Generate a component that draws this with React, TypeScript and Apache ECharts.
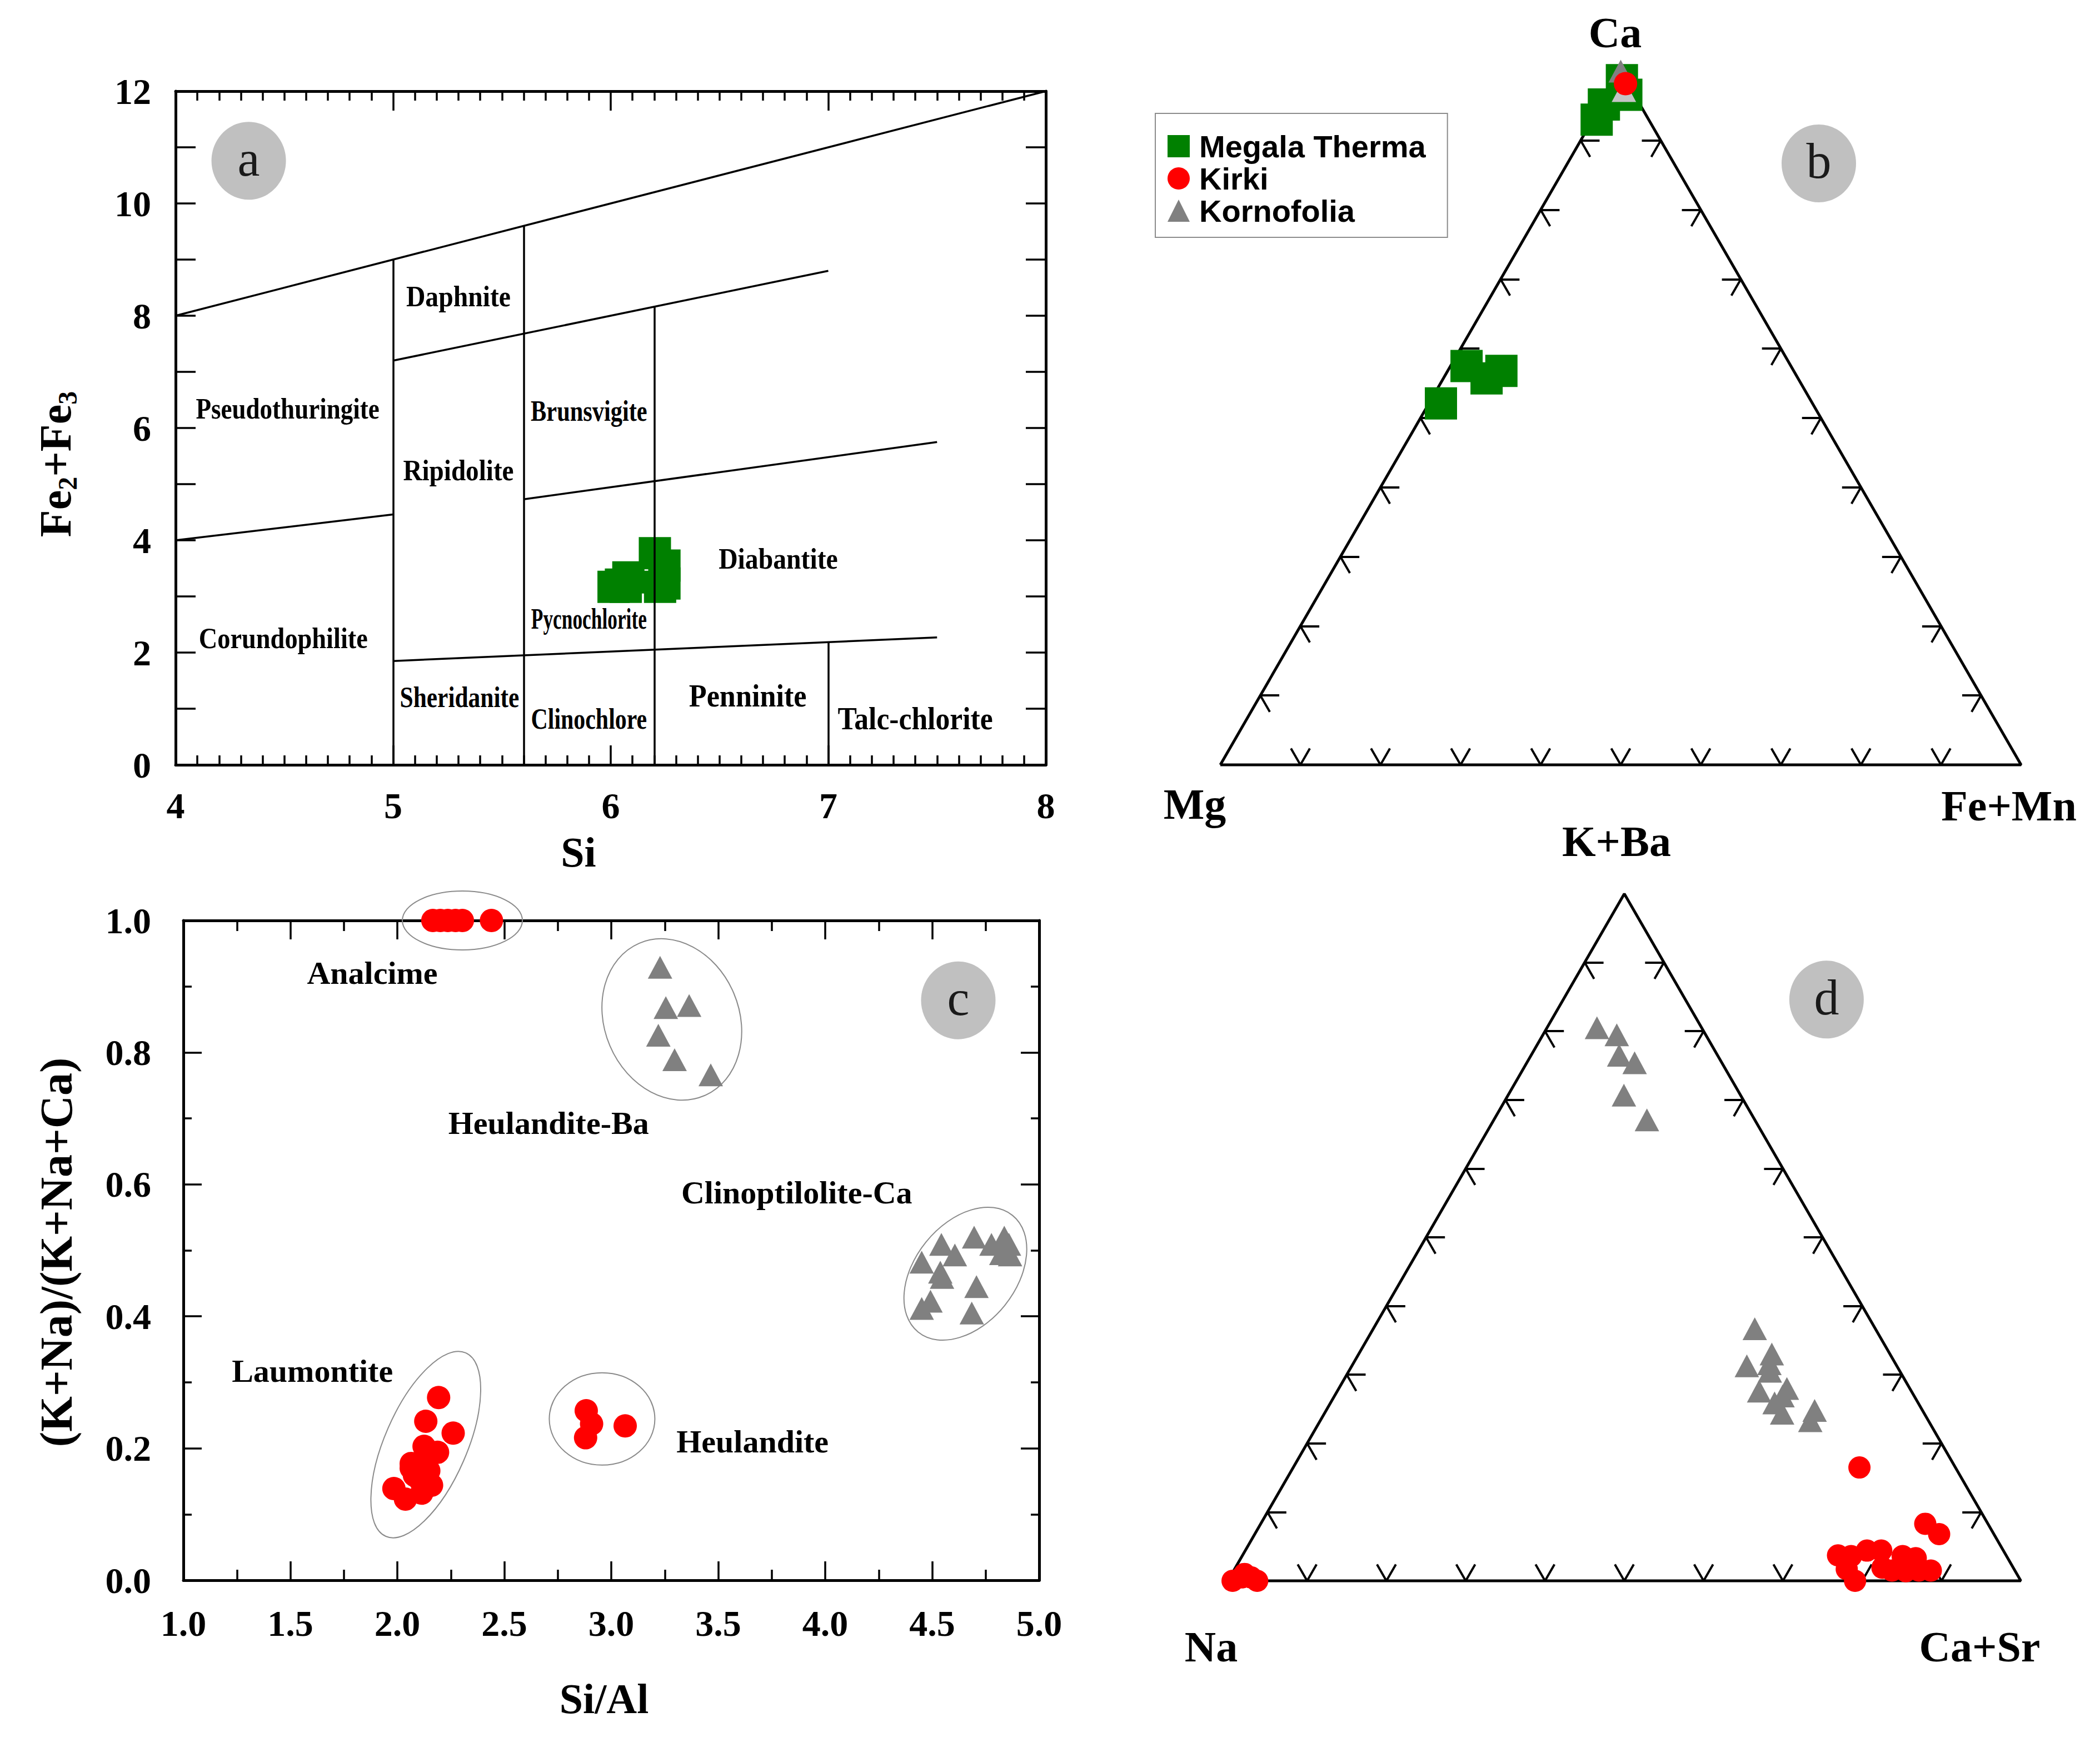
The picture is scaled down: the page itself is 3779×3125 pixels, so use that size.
import React, { useEffect, useRef } from 'react';
import * as echarts from 'echarts';

const SERIF = '"Liberation Serif", "Times New Roman", serif';
const SANS = '"Liberation Sans", Arial, sans-serif';
const GREEN = '#008000';
const RED = '#ff0000';
const GRAY = '#808080';

// ---------------- Panel a : Si vs Fe2+Fe3 (chlorite classification) ----------------
const aSi = [6.013, 6.047, 6.081, 6.069, 6.203, 6.247, 6.247, 6.227];
const aFe = [3.17, 3.21, 3.34, 3.17, 3.77, 3.55, 3.23, 3.17];
const aBoundaryStart = [[4, 8], [5, 7.2], [5.6, 4.73], [4, 4], [5, 1.85], [5, 0], [5.6, 0], [6.2, 0], [7, 0]];
const aBoundaryEnd = [[8, 12], [7, 8.8], [7.5, 5.75], [5, 4.46], [7.5, 2.27], [5, 9], [5.6, 9.6], [6.2, 8.16], [7, 2.19]];
const aFieldNames = ['Daphnite', 'Pseudothuringite', 'Brunsvigite', 'Ripidolite', 'Diabantite', 'Pycnochlorite',
  'Corundophilite', 'Sheridanite', 'Clinochlore', 'Penninite', 'Talc-chlorite'];
const aFieldSi = [5.30, 4.515, 5.90, 5.30, 6.77, 5.90, 4.495, 5.305, 5.90, 6.63, 7.40];
const aFieldFe = [8.35, 6.34, 6.31, 5.25, 3.67, 2.60, 2.25, 1.21, 0.82, 1.23, 0.83];

// ---------------- Panel b : Ca – Mg – Fe+Mn ternary  [Ca, Mg, Fe+Mn] ----------------
const bMegala = [
  [0.987, 0.005, 0.008], [0.966, 0.010, 0.024], [0.952, 0.045, 0.003], [0.930, 0.065, 0.005],
  [0.521, 0.464, 0.015], [0.575, 0.405, 0.020], [0.557, 0.389, 0.054], [0.568, 0.365, 0.067],
];
const bKornofolia = [[1.0, 0.0, 0.0], [0.972, 0.010, 0.018]];
const bKirki = [[0.982, 0.003, 0.015]];

// ---------------- Panel c : Si/Al vs (K+Na)/(K+Na+Ca) ----------------
const cKirkiSiAl = [2.166, 2.201, 2.236, 2.272, 2.304, 2.44,
  2.193, 2.133, 2.261, 2.125, 2.188, 2.065, 2.147, 2.106, 1.984, 2.038, 2.114, 2.16, 2.08, 2.133, 2.065,
  2.883, 2.908, 2.880, 3.065];
const cKirkiRatio = [1, 1, 1, 1, 1, 1,
  0.277, 0.241, 0.223, 0.203, 0.194, 0.177, 0.166, 0.152, 0.139, 0.123, 0.132, 0.144, 0.159, 0.184, 0.170,
  0.257, 0.237, 0.216, 0.234];
const cKornSiAl = [3.228, 3.255, 3.364, 3.22, 3.296, 3.465,
  4.451, 4.543, 4.606, 4.538, 4.546, 4.696, 4.777, 4.837, 4.859, 4.823, 4.864, 4.707, 4.685, 4.492, 4.451];
const cKornRatio = [0.929, 0.868, 0.871, 0.826, 0.789, 0.766,
  0.482, 0.509, 0.493, 0.467, 0.459, 0.520, 0.509, 0.520, 0.509, 0.495, 0.493, 0.445, 0.405, 0.423, 0.412];
const cFieldNames = ['Analcime', 'Heulandite-Ba', 'Clinoptilolite-Ca', 'Laumontite', 'Heulandite'];
const cFieldSiAl = [1.883, 2.707, 3.867, 1.603, 3.66];
const cFieldRatio = [0.92, 0.693, 0.588, 0.317, 0.21];
const cGroupSiAl = [2.304, 3.283, 4.655, 2.133, 2.957];
const cGroupRatio = [1.0, 0.85, 0.4646, 0.2056, 0.2445];

// ---------------- Panel d : K+Ba – Na – Ca+Sr ternary  [K+Ba, Na, Ca+Sr] ----------------
const dKornofolia = [
  [0.805, 0.132, 0.063], [0.794, 0.112, 0.093], [0.765, 0.124, 0.111], [0.754, 0.110, 0.136],
  [0.707, 0.147, 0.146], [0.671, 0.136, 0.193],
  [0.367, 0.152, 0.481], [0.330, 0.149, 0.521], [0.313, 0.189, 0.498], [0.316, 0.159, 0.525],
  [0.305, 0.164, 0.531], [0.276, 0.192, 0.532], [0.280, 0.155, 0.565], [0.269, 0.166, 0.565],
  [0.259, 0.181, 0.560], [0.244, 0.179, 0.577], [0.248, 0.136, 0.616], [0.233, 0.149, 0.618],
];
const dKirki = [
  [0.165, 0.121, 0.714], [0.083, 0.079, 0.838], [0.068, 0.069, 0.863],
  [0.037, 0.212, 0.751], [0.017, 0.211, 0.772], [0.000, 0.209, 0.791], [0.036, 0.196, 0.768],
  [0.044, 0.172, 0.784], [0.044, 0.154, 0.802], [0.019, 0.165, 0.816], [0.015, 0.155, 0.830],
  [0.036, 0.131, 0.833], [0.033, 0.116, 0.851], [0.015, 0.121, 0.864], [0.015, 0.106, 0.879],
  [0.014, 0.138, 0.848],
  [0.000, 0.994, 0.006], [0.005, 0.980, 0.015], [0.005, 0.968, 0.027], [0.000, 0.963, 0.037], [0.010, 0.974, 0.016],
];

const ternaryTickFractions = [0.1, 0.2, 0.3, 0.4, 0.5, 0.6, 0.7, 0.8, 0.9];
const legendNames = ['Megala Therma', 'Kirki', 'Kornofolia'];

// ---------------- styles (kept apart from data) ----------------
const aFieldStyle: Record<string, { size: number; sx: number }> = {
  Daphnite: { size: 53, sx: 0.9 },
  Pseudothuringite: { size: 53, sx: 0.85 },
  Brunsvigite: { size: 53, sx: 0.8 },
  Ripidolite: { size: 53, sx: 0.89 },
  Diabantite: { size: 53, sx: 0.9 },
  Pycnochlorite: { size: 52, sx: 0.68 },
  Corundophilite: { size: 53, sx: 0.875 },
  Sheridanite: { size: 53, sx: 0.82 },
  Clinochlore: { size: 53, sx: 0.79 },
  Penninite: { size: 58, sx: 0.9 },
  'Talc-chlorite': { size: 58, sx: 0.89 },
};
const cGroupShape = [
  { rx: 108, ry: 53, rot: 0 },
  { rx: 121, ry: 149, rot: 23 },
  { rx: 91, ry: 135, rot: -39 },
  { rx: 74, ry: 180, rot: -23.5 },
  { rx: 95, ry: 83, rot: 0 },
];

// ternary [top, left, right] -> cartesian (x along base, y = top fraction)
const toXY = (t: number[]) => {
  const s = t[0] + t[1] + t[2];
  return [t[2] / s + t[0] / s / 2, t[0] / s];
};

const triangleFrame = [[0, 0], [1, 0], [0.5, 1], [0, 0]];

function ternaryTickSegments(len: number) {
  const segs: number[][][] = [];
  ternaryTickFractions.forEach((f) => {
    const L = [f / 2, f];
    segs.push([L, [L[0] + len, L[1]]], [L, [L[0] + len / 2, L[1] - len]]);
    const B = [f, 0];
    segs.push([B, [f - len / 2, len]], [B, [f + len / 2, len]]);
    const R = [1 - f / 2, f];
    segs.push([R, [R[0] - len, R[1]]], [R, [R[0] - len / 2, R[1] - len]]);
  });
  return segs;
}

function frameAxis(gridIndex: number, position: string, min: number, max: number, interval: number,
  minorSplit: number, majorLen: number, minorLen: number, labels: boolean, margin: number,
  fmt?: (v: number) => string) {
  return {
    type: 'value', gridIndex, position, min, max, interval,
    axisLine: { show: true, onZero: false, lineStyle: { color: '#000', width: 5 } },
    axisTick: { show: true, inside: true, length: majorLen, lineStyle: { color: '#000', width: 3.5 } },
    minorTick: { show: true, splitNumber: minorSplit, length: minorLen, lineStyle: { color: '#000', width: 3.5 } },
    splitLine: { show: false },
    minorSplitLine: { show: false },
    axisLabel: {
      show: labels, margin, color: '#000', fontFamily: SERIF, fontWeight: 'bold', fontSize: 66,
      formatter: fmt,
    },
  };
}
const hiddenAxis = (gridIndex: number) => ({ type: 'value', gridIndex, min: 0, max: 1, show: false });

function ternarySeries(axis: number, tickLen: number) {
  return [
    {
      type: 'line', xAxisIndex: axis, yAxisIndex: axis, data: triangleFrame, symbol: 'none',
      lineStyle: { color: '#000', width: 5 }, silent: true, z: 2, clip: false,
    },
    {
      type: 'lines', coordinateSystem: 'cartesian2d', xAxisIndex: axis, yAxisIndex: axis,
      data: ternaryTickSegments(tickLen).map((s) => ({ coords: s })),
      lineStyle: { color: '#000', width: 4, opacity: 1, curveness: 0 }, silent: true, z: 2,
    },
  ];
}

const sq = { symbol: 'rect', symbolSize: 58, itemStyle: { color: GREEN, opacity: 1 } };
const ci = { symbol: 'circle', symbolSize: 42, itemStyle: { color: RED, opacity: 1 } };
const tr = { symbol: 'triangle', symbolSize: [44, 41], itemStyle: { color: GRAY, opacity: 1 } };

function buildOption() {
  const fmt1 = (v: number) => v.toFixed(1);
  return {
    animation: false,
    backgroundColor: '#fff',
    grid: [
      { left: 316, top: 164, width: 1566, height: 1212 },
      { left: 2196, top: 128, width: 1441, height: 1248 },
      { left: 330, top: 1656, width: 1540, height: 1187 },
      { left: 2209.5, top: 1608, width: 1427, height: 1236 },
    ],
    xAxis: [
      frameAxis(0, 'bottom', 4, 8, 1, 10, 35, 17, true, 40),
      frameAxis(0, 'top', 4, 8, 1, 10, 35, 17, false, 0),
      hiddenAxis(1),
      frameAxis(2, 'bottom', 1, 5, 0.5, 2, 34, 19, true, 44, fmt1),
      frameAxis(2, 'top', 1, 5, 0.5, 2, 34, 19, false, 0),
      hiddenAxis(3),
    ],
    yAxis: [
      frameAxis(0, 'left', 0, 12, 2, 2, 36, 36, true, 44),
      frameAxis(0, 'right', 0, 12, 2, 2, 36, 36, false, 0),
      hiddenAxis(1),
      frameAxis(2, 'left', 0, 1, 0.2, 2, 33, 15, true, 58, fmt1),
      frameAxis(2, 'right', 0, 1, 0.2, 2, 33, 15, false, 0),
      hiddenAxis(3),
    ],
    legend: {
      data: legendNames, orient: 'vertical', left: 2079, top: 204,
      itemWidth: 40, itemHeight: 40, itemGap: 0, selectedMode: false,
      padding: [30, 39, 19, 22], borderColor: '#8c8c8c', borderWidth: 2, backgroundColor: '#fff',
      textStyle: { fontFamily: SANS, fontWeight: 'bold', fontSize: 56, color: '#000', lineHeight: 58, padding: [0, 0, 0, 12] },
    },
    series: [
      // panel a
      { type: 'scatter', name: 'Megala Therma', xAxisIndex: 0, yAxisIndex: 0, ...sq, clip: false, z: 3,
        data: aSi.map((x, i) => [x, aFe[i]]) },
      { type: 'lines', coordinateSystem: 'cartesian2d', xAxisIndex: 0, yAxisIndex: 0, silent: true, z: 5,
        lineStyle: { color: '#000', width: 3.5, opacity: 1, curveness: 0 },
        data: aBoundaryStart.map((p, i) => ({ coords: [p, aBoundaryEnd[i]] })) },
      // panel b
      ...ternarySeries(2, 0.0236),
      { type: 'scatter', name: 'Megala Therma', xAxisIndex: 2, yAxisIndex: 2, ...sq, clip: false, z: 3,
        data: bMegala.map(toXY) },
      { type: 'scatter', name: 'Kornofolia', xAxisIndex: 2, yAxisIndex: 2, ...tr, clip: false, z: 3,
        data: bKornofolia.map((t, i) => (i === 1 ? { value: toXY(t), itemStyle: { color: '#c4c4c4' } } : toXY(t))) },
      { type: 'scatter', name: 'Kirki', xAxisIndex: 2, yAxisIndex: 2, ...ci, clip: false, z: 3,
        data: bKirki.map(toXY) },
      // panel c
      { type: 'scatter', name: 'Kirki', xAxisIndex: 3, yAxisIndex: 3, ...ci, clip: false, z: 3,
        data: cKirkiSiAl.map((x, i) => [x, cKirkiRatio[i]]) },
      { type: 'scatter', name: 'Kornofolia', xAxisIndex: 3, yAxisIndex: 3, ...tr, clip: false, z: 3,
        data: cKornSiAl.map((x, i) => [x, cKornRatio[i]]) },
      // panel d
      ...ternarySeries(5, 0.0238),
      { type: 'scatter', name: 'Kornofolia', xAxisIndex: 5, yAxisIndex: 5, ...tr, clip: false, z: 3,
        data: dKornofolia.map(toXY) },
      { type: 'scatter', name: 'Kirki', xAxisIndex: 5, yAxisIndex: 5, ...ci, symbolSize: 40, clip: false, z: 3,
        data: dKirki.map(toXY) },
    ],
  };
}

function buildGraphics(chart: any) {
  const P = (axis: number, v: number[]) => chart.convertToPixel({ xAxisIndex: axis, yAxisIndex: axis }, v) as number[];
  const els: any[] = [];
  const text = (x: number, y: number, t: string, size: number, extra: any = {}, style: any = {}) => ({
    type: 'text', x, y, z: 50, silent: true, ...extra,
    style: {
      text: t, fill: '#000', fontFamily: SERIF, fontWeight: 'bold', fontSize: size,
      align: 'center', verticalAlign: 'middle', ...style,
    },
  });
  const badge = (c: number[], letter: string) => {
    els.push({ type: 'ellipse', x: c[0], y: c[1], z: 1, silent: true, shape: { cx: 0, cy: 0, rx: 67, ry: 70 },
      style: { fill: '#c0c0c0' } });
    els.push(text(c[0], c[1] - 4, letter, 90, {}, { fontWeight: 'normal', fill: '#1a1a1a' }));
  };

  // panel a field names
  aFieldNames.forEach((n, i) => {
    const p = P(0, [aFieldSi[i], aFieldFe[i]]);
    const st = aFieldStyle[n];
    els.push(text(p[0], p[1], n, st.size, { scaleX: st.sx }));
  });
  badge(P(0, [4.336, 10.76]), 'a');

  // panel a titles
  els.push(text(1041, 1533, 'Si', 76));
  els.push({
    type: 'text', x: 100, y: 835, rotation: Math.PI / 2, z: 50, silent: true,
    style: {
      text: '{m|Fe}{s|2}{m|+Fe}{s|3}', align: 'center', verticalAlign: 'middle', fill: '#000',
      rich: {
        m: { fontFamily: SERIF, fontWeight: 'bold', fontSize: 80, lineHeight: 90, verticalAlign: 'middle' },
        s: { fontFamily: SERIF, fontWeight: 'bold', fontSize: 48, lineHeight: 40, verticalAlign: 'bottom' },
      },
    },
  });

  // panel b vertex labels
  const bTop = P(2, [0.5, 1]), bL = P(2, [0, 0]), bR = P(2, [1, 0]);
  els.push(text(bTop[0] - 10, bTop[1] - 70, 'Ca', 78));
  els.push(text(bL[0] - 46, bL[1] + 70, 'Mg', 78));
  els.push(text(bR[0] - 22, bR[1] + 73, 'Fe+Mn', 78));
  badge(P(2, [0.7474, 0.867]), 'b');

  // panel c
  cGroupSiAl.forEach((x, i) => {
    const p = P(3, [x, cGroupRatio[i]]);
    const s = cGroupShape[i];
    els.push({ type: 'ellipse', x: p[0], y: p[1], rotation: (s.rot * Math.PI) / 180, z: 1, silent: true,
      shape: { cx: 0, cy: 0, rx: s.rx, ry: s.ry }, style: { fill: 'none', stroke: '#8a8a8a', lineWidth: 2 } });
  });
  cFieldNames.forEach((n, i) => {
    const p = P(3, [cFieldSiAl[i], cFieldRatio[i]]);
    els.push(text(p[0], p[1], n, 58));
  });
  badge(P(3, [4.622, 0.879]), 'c');
  els.push(text(1087, 3056, 'Si/Al', 76));
  els.push(text(101, 2253, '(K+Na)/(K+Na+Ca)', 82, { rotation: Math.PI / 2 }));

  // panel d vertex labels
  const dTop = P(5, [0.5, 1]), dL = P(5, [0, 0]), dR = P(5, [1, 0]);
  els.push(text(dTop[0] - 14, dTop[1] - 95, 'K+Ba', 78));
  els.push(text(dL[0] - 30, dL[1] + 118, 'Na', 78));
  els.push(text(dR[0] - 74, dR[1] + 118, 'Ca+Sr', 78));
  badge(P(5, [0.755, 0.846]), 'd');

  return els;
}

export default function App() {
  const ref = useRef<HTMLDivElement>(null);
  useEffect(() => {
    document.body.style.margin = '0';
    document.body.style.overflow = 'hidden';
    const chart = echarts.init(ref.current as HTMLDivElement, null, { renderer: 'svg' });
    chart.setOption(buildOption() as any);
    chart.setOption({ graphic: { elements: buildGraphics(chart) } } as any);
    return () => chart.dispose();
  }, []);
  return <div ref={ref} style={{ width: 3779, height: 3125, background: '#fff' }} />;
}
